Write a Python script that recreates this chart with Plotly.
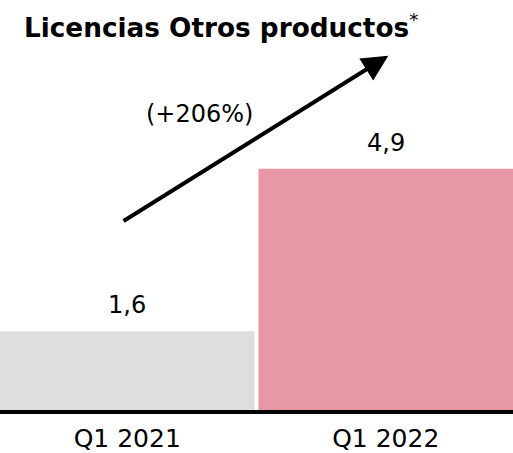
import plotly.graph_objects as go

categories = ["Q1 2021", "Q1 2022"]
values = [1.6, 4.9]
colors = ["#dedede", "#e898a5"]
title_text = "Licencias Otros productos"

growth = (values[1] / values[0] - 1) * 100
LABEL_FONT = "'DejaVu Sans', sans-serif"
PX_PER_UNIT = 49.5
GAP = 0.0155

fig = go.Figure()
fig.add_trace(go.Bar(x=[0, 1], y=values, marker=dict(color=colors, line=dict(width=0)),
                     hoverinfo="skip"))

annotations = []
for i, v in enumerate(values):
    annotations.append(dict(x=i, y=v, xref="x", yref="y", text=f"{v:.1f}".replace(".", ","),
                            showarrow=False, yanchor="bottom", yshift=10,
                            font=dict(family=LABEL_FONT, size=24, color="black")))
# growth arrow
annotations.append(dict(x=1.01, y=(412 - 56) / PX_PER_UNIT, xref="x", yref="y",
                        ax=-0.02, ay=(412 - 223) / PX_PER_UNIT, axref="x", ayref="y",
                        text="", showarrow=True, arrowhead=2, arrowsize=1.3, arrowwidth=4,
                        arrowcolor="black"))
annotations.append(dict(x=0.28, y=(412 - 115) / PX_PER_UNIT, xref="x", yref="y",
                        text=f"(+{growth:.0f}%)", showarrow=False,
                        font=dict(family=LABEL_FONT, size=24, color="black")))

fig.update_layout(
    width=513, height=453, autosize=False,
    margin=dict(l=0, r=0, t=0, b=41, pad=0),
    plot_bgcolor="white", paper_bgcolor="white",
    bargap=GAP,
    showlegend=False,
    title=dict(text=f"<b>{title_text}</b><sup>*</sup>", x=24/513, xanchor="left", xref="container",
               y=1 - 28/453, yanchor="middle", yref="container",
               font=dict(family="'DejaVu Sans', sans-serif", size=26.3, color="black")),
    xaxis=dict(tickmode="array", tickvals=[0, 1], ticktext=categories,
               range=[-0.5 + GAP / 2, 1.5 - GAP / 2],
               showline=True, linecolor="black", linewidth=4, showgrid=False, zeroline=False,
               ticks="", ticklabelstandoff=3,
               tickfont=dict(family=LABEL_FONT, size=25, color="black")),
    yaxis=dict(range=[0, 412 / PX_PER_UNIT], visible=False, showgrid=False, zeroline=False),
    annotations=annotations,
)
fig.write_html("out.html", config={"responsive": False, "displayModeBar": False},
               post_script="document.body.style.margin='0';document.body.style.padding='0';")
